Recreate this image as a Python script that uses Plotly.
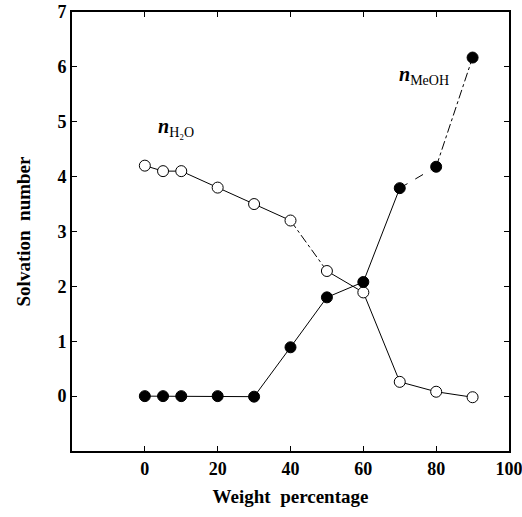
import plotly.graph_objects as go

weight = [0, 5, 10, 20, 30, 40, 50, 60, 70, 80, 90]
n_h2o = [4.2, 4.1, 4.1, 3.8, 3.5, 3.2, 2.28, 1.89, 0.26, 0.08, -0.02]
n_meoh = [0, 0, 0, 0, -0.01, 0.89, 1.8, 2.08, 3.79, 4.18, 6.17]
x_ticks = [0, 20, 40, 60, 80, 100]
y_ticks = [0, 1, 2, 3, 4, 5, 6, 7]

FONT = "Liberation Serif"
fig = go.Figure()

def seg(x, y, a, b, dash):
    fig.add_trace(go.Scatter(x=x[a:b + 1], y=y[a:b + 1], mode="lines",
                             line=dict(color="black", width=1, dash=dash),
                             showlegend=False, hoverinfo="skip"))

seg(weight, n_h2o, 0, 5, "solid")
seg(weight, n_h2o, 5, 6, "dashdot")
seg(weight, n_h2o, 6, 10, "solid")
seg(weight, n_meoh, 0, 8, "solid")
seg(weight, n_meoh, 8, 9, "dash")
seg(weight, n_meoh, 9, 10, "dashdot")

fig.add_trace(go.Scatter(x=weight, y=n_h2o, mode="markers",
                         marker=dict(symbol="circle", size=11, color="white",
                                     line=dict(color="black", width=1)),
                         showlegend=False))
fig.add_trace(go.Scatter(x=weight, y=n_meoh, mode="markers",
                         marker=dict(symbol="circle", size=11, color="black",
                                     line=dict(color="black", width=1)),
                         showlegend=False))

fig.add_annotation(x=3.0, y=4.9, xanchor="left", yanchor="middle", showarrow=False,
                   text="<b><i>n</i></b><sub>H₂O</sub>",
                   font=dict(family=FONT, size=20, color="black"))
fig.add_annotation(x=69.3, y=5.85, xanchor="left", yanchor="middle", showarrow=False,
                   text="<b><i>n</i></b><sub>MeOH</sub>",
                   font=dict(family=FONT, size=20, color="black"))

axis_common = dict(showline=True, linecolor="black", linewidth=2, mirror="ticks",
                   ticks="inside", ticklen=5, tickwidth=1, tickcolor="black",
                   showgrid=False, zeroline=False, automargin=False,
                   ticklabeloverflow="allow",
                   tickfont=dict(family=FONT, size=18, color="black"))

fig.update_xaxes(range=[-20, 100], tickvals=x_ticks,
                 ticktext=["<b>%d</b>" % v for v in x_ticks],
                 title=dict(text="<b>Weight  percentage</b>", standoff=12,
                            font=dict(family=FONT, size=19, color="black")),
                 **axis_common)
fig.update_yaxes(range=[-1.0, 7.0], tickvals=y_ticks,
                 ticktext=["<b>%d</b>" % v for v in y_ticks],
                 title=dict(text="<b>Solvation  number</b>", standoff=22,
                            font=dict(family=FONT, size=19, color="black")),
                 **axis_common)

fig.update_layout(width=522, height=517, margin=dict(l=72, r=13, t=12, b=66),
                  plot_bgcolor="white", paper_bgcolor="white",
                  font=dict(family=FONT, color="black"))

fig.write_html("out.html")
